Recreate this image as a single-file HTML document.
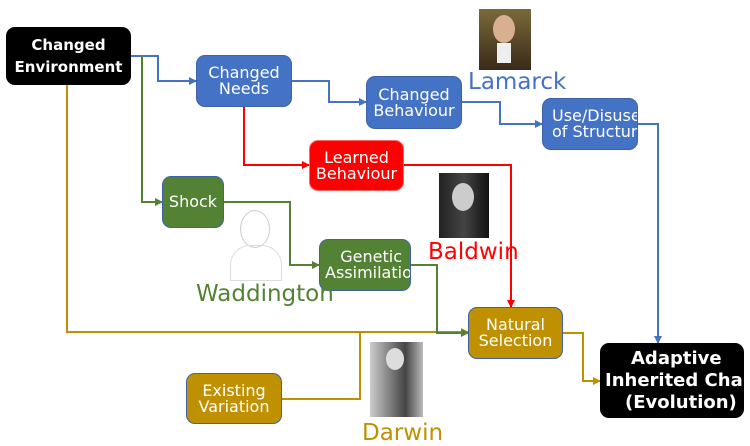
<!DOCTYPE html>
<html><head><style>
body{margin:0;width:750px;height:443px;background:#fff;overflow:hidden;position:relative;font-family:"DejaVu Sans","Liberation Sans",sans-serif}
.b{position:absolute;border-radius:9px;color:#fff;box-sizing:border-box;overflow:hidden;white-space:nowrap;border:1px solid #3d62a8}
.b div{position:absolute;left:-6px;right:-6px;top:50%;transform:translateY(-50%);text-align:center;font-size:16px;line-height:16px}
.bl{background:#4472C4}.g{background:#548235}.r{background:#ff0000;border-color:#f66}.y{background:#BF9000}
.k{background:#000;border-color:#000}
.k div{font-weight:bold;font-size:15px;line-height:22px}
.n{position:absolute;font-size:23px;line-height:24px}
.p{position:absolute}
.a{position:absolute;font-weight:bold;font-size:18px;line-height:21px;color:#fff;white-space:nowrap}
</style></head><body>
<svg width="750" height="443" style="position:absolute;left:0;top:0">
<defs>
<marker id="ab" markerWidth="8" markerHeight="8" refX="7" refY="4" orient="auto" markerUnits="userSpaceOnUse"><path d="M0,0L8,4L0,8z" fill="#4472C4"/></marker>
<marker id="ag" markerWidth="8" markerHeight="8" refX="7" refY="4" orient="auto" markerUnits="userSpaceOnUse"><path d="M0,0L8,4L0,8z" fill="#548235"/></marker>
<marker id="ar" markerWidth="8" markerHeight="8" refX="7" refY="4" orient="auto" markerUnits="userSpaceOnUse"><path d="M0,0L8,4L0,8z" fill="#f00"/></marker>
<marker id="ay" markerWidth="8" markerHeight="8" refX="7" refY="4" orient="auto" markerUnits="userSpaceOnUse"><path d="M0,0L8,4L0,8z" fill="#BF9000"/></marker>
</defs>
<g fill="none" stroke-width="2">
<path d="M131,56H158V81H196" stroke="#4472C4" marker-end="url(#ab)"/>
<path d="M292,81H329V102H366" stroke="#4472C4" marker-end="url(#ab)"/>
<path d="M462,102H500V124H542" stroke="#4472C4" marker-end="url(#ab)"/>
<path d="M638,124H658V343" stroke="#4472C4" marker-end="url(#ab)"/>
<path d="M67,85V332H468" stroke="#BF9000" marker-end="url(#ay)"/>
<path d="M282,399H360V332" stroke="#BF9000"/>
<path d="M563,333H583V381H600" stroke="#BF9000" marker-end="url(#ay)"/>
<path d="M142,56V202H162" stroke="#548235" marker-end="url(#ag)"/>
<path d="M224,202H290V265H319" stroke="#548235" marker-end="url(#ag)"/>
<path d="M411,265H437V333H468" stroke="#548235" marker-end="url(#ag)"/>
<path d="M244,107V165H309" stroke="#f00" marker-end="url(#ar)"/>
<path d="M404,165H511V307" stroke="#f00" marker-end="url(#ar)"/>
</g>
</svg>
<div class="p" style="left:479px;top:9px;width:52px;height:61px;background:linear-gradient(#7a6a3a,#3a2a18)"><div style="position:absolute;left:14px;top:6px;width:22px;height:28px;border-radius:50%;background:#d8b090"></div><div style="position:absolute;left:18px;top:34px;width:14px;height:20px;background:#eee"></div></div>
<div class="p" style="left:439px;top:173px;width:50px;height:65px;background:linear-gradient(90deg,#222,#444,#111)"><div style="position:absolute;left:13px;top:10px;width:22px;height:28px;border-radius:50%;background:#ccc"></div></div>
<div class="p" style="left:225px;top:205px;width:60px;height:75px;"><div style="position:absolute;left:15px;top:5px;width:28px;height:36px;border-radius:50%;border:1px solid #ccc"></div><div style="position:absolute;left:5px;top:40px;width:50px;height:34px;border-radius:20px 20px 0 0;border:1px solid #ddd"></div></div>
<div class="p" style="left:370px;top:342px;width:53px;height:75px;background:linear-gradient(90deg,#ccc,#888,#444,#bbb)"><div style="position:absolute;left:16px;top:6px;width:18px;height:22px;border-radius:50%;background:#ddd"></div></div>
<div class="b k" style="left:6px;top:27px;width:125px;height:58px"><div>Changed<br>Environment</div></div>
<div class="b bl" style="left:196px;top:55px;width:96px;height:52px"><div>Changed<br>Needs</div></div>
<div class="b bl" style="left:366px;top:76px;width:96px;height:53px"><div>Changed<br>Behaviour</div></div>
<div class="b bl" style="left:542px;top:98px;width:96px;height:52px"><div style="left:0;right:-40px;text-align:left;padding-left:9px">Use/Disuse<br>of Structure</div></div>
<div class="b r" style="left:309px;top:140px;width:95px;height:51px"><div>Learned<br>Behaviour</div></div>
<div class="b g" style="left:162px;top:176px;width:62px;height:52px"><div>Shock</div></div>
<div class="b g" style="left:319px;top:239px;width:92px;height:52px"><div style="left:0;right:-40px;text-align:left;padding-left:5px">&nbsp;&nbsp;&nbsp;Genetic<br>Assimilation</div></div>
<div class="b y" style="left:468px;top:307px;width:95px;height:52px"><div>Natural<br>Selection</div></div>
<div class="b y" style="left:186px;top:373px;width:96px;height:51px"><div>Existing<br>Variation</div></div>
<div class="b k" style="left:600px;top:343px;width:144px;height:75px;overflow:hidden">
<span class="a" style="left:30px;top:4px">Adaptive</span>
<span class="a" style="left:4px;top:26px">Inherited Characteristics</span>
<span class="a" style="left:24px;top:48px">(Evolution)</span>
</div>
<div class="n" style="left:468px;top:70px;color:#4472C4">Lamarck</div>
<div class="n" style="left:428px;top:240px;color:#f00">Baldwin</div>
<div class="n" style="left:196px;top:282px;color:#548235">Waddington</div>
<div class="n" style="left:362px;top:421px;color:#BF9000">Darwin</div>
</body></html>
